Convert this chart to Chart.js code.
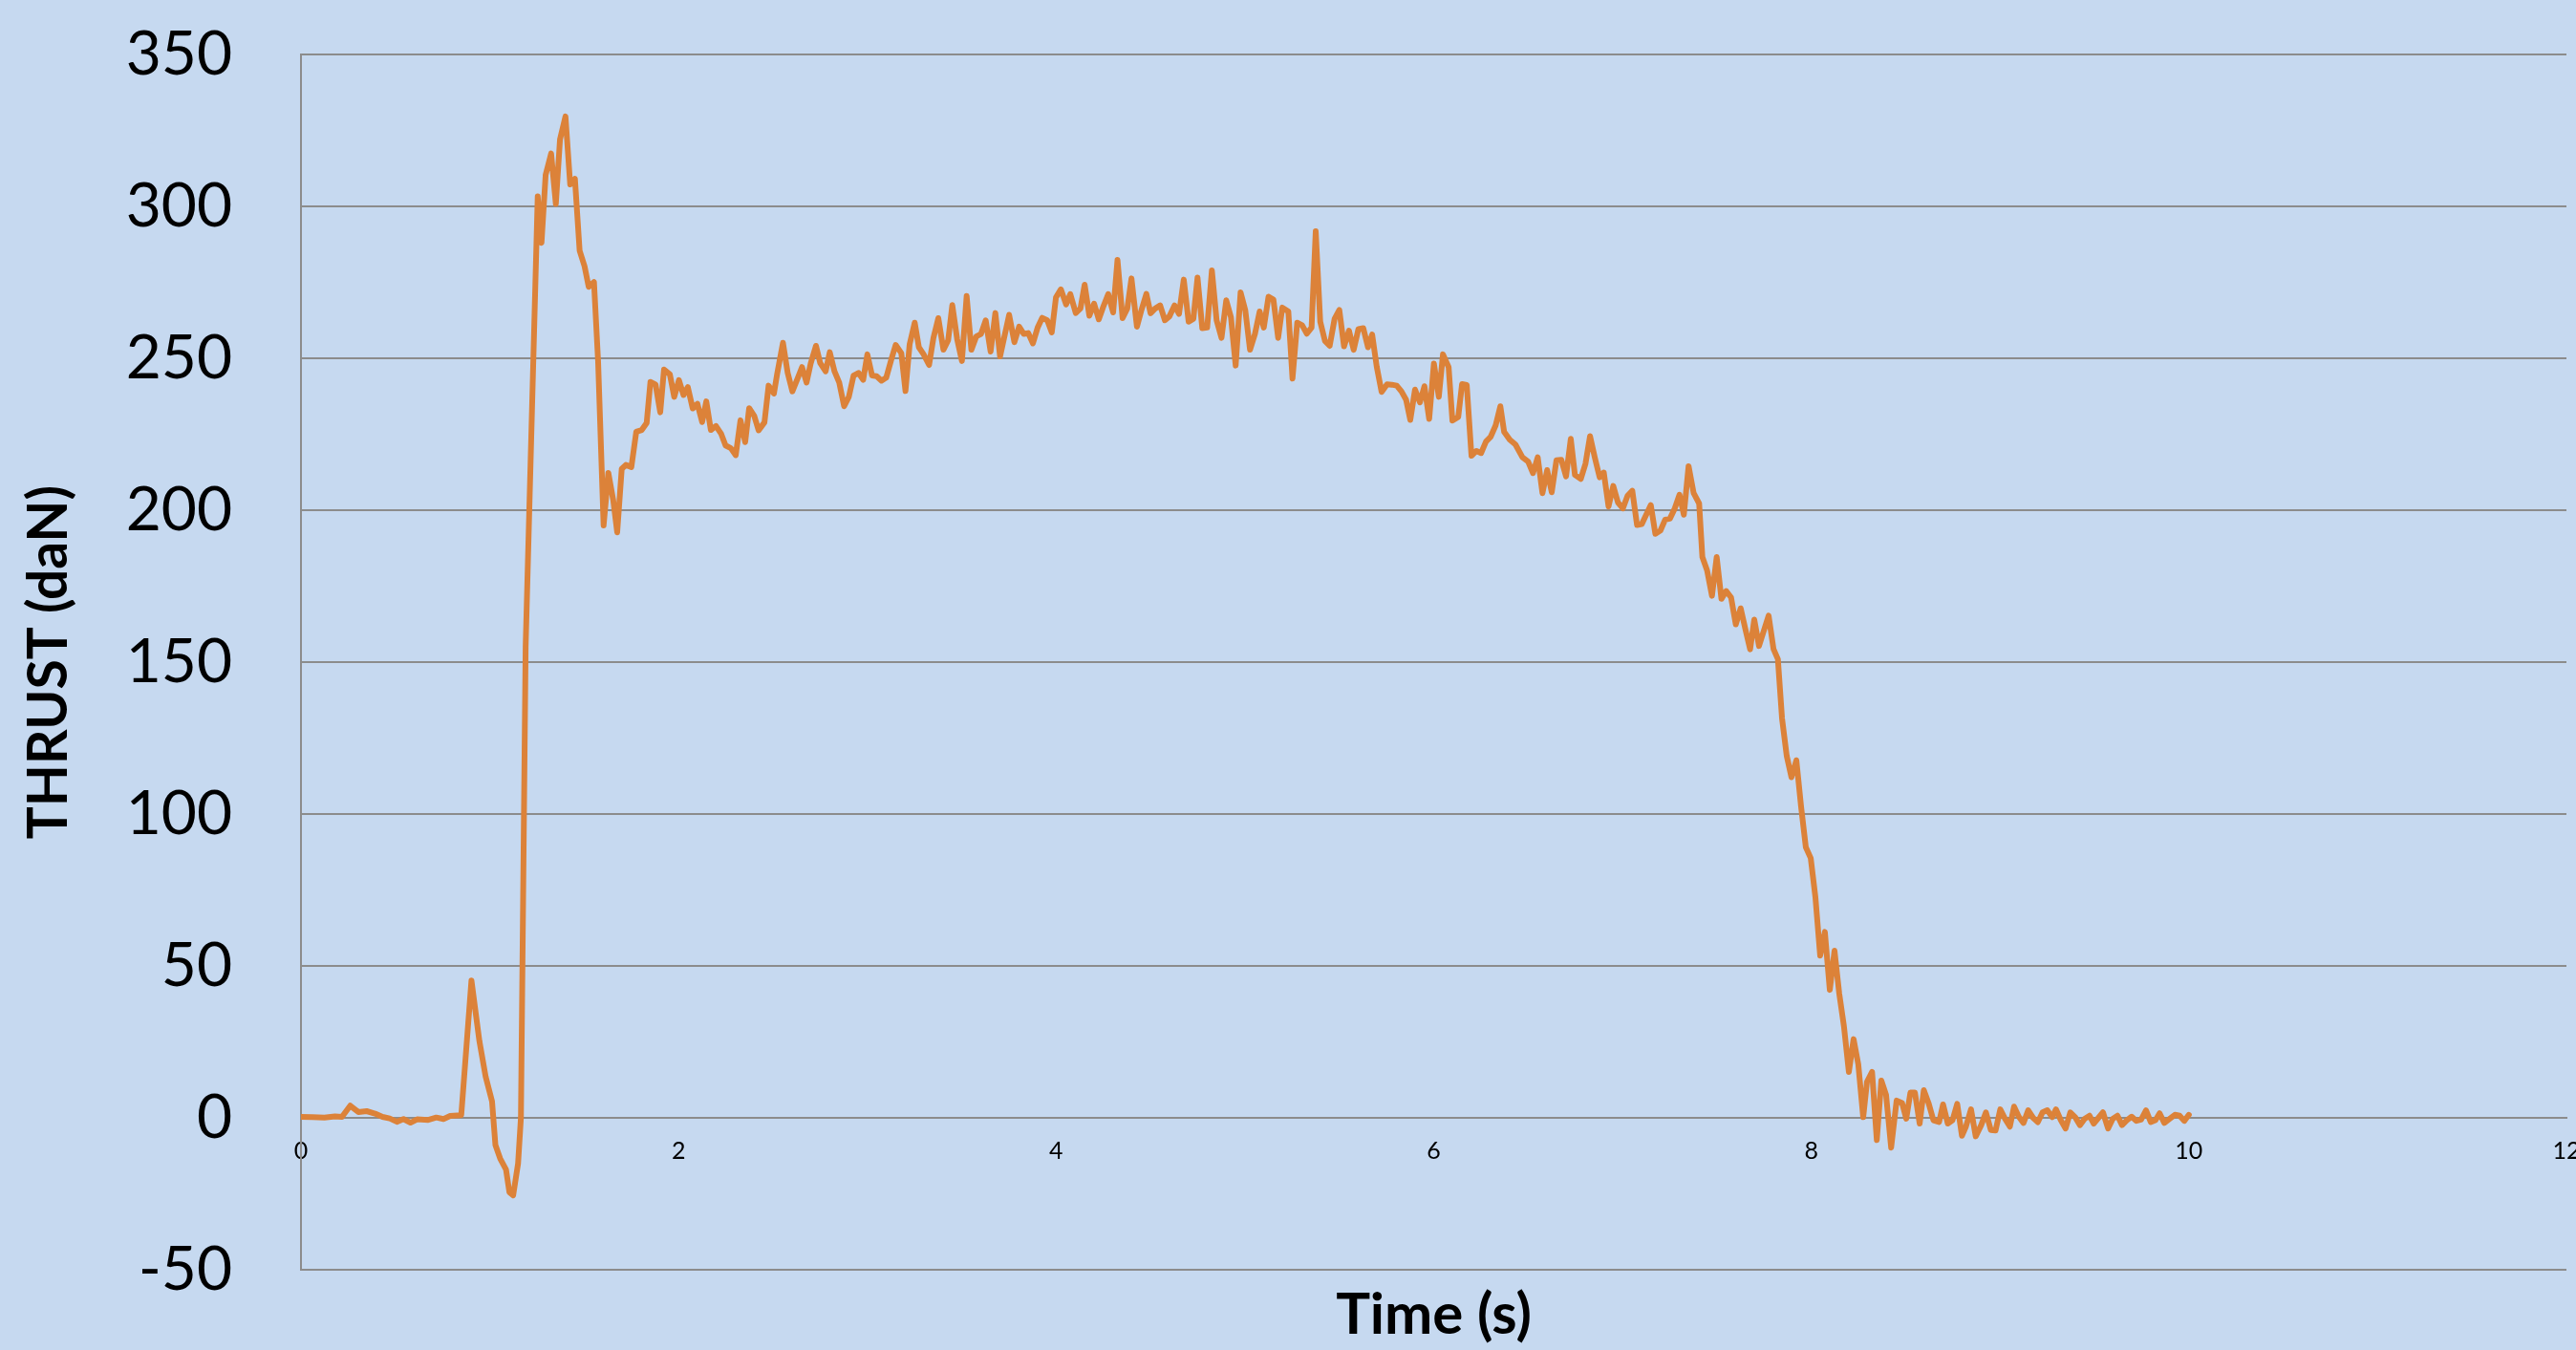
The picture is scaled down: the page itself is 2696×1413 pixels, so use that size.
<!DOCTYPE html>
<html>
<head>
<meta charset="utf-8">
<title>Thrust curve</title>
<script src="https://cdn.jsdelivr.net/npm/chart.js@4/dist/chart.umd.min.js"></script>
<style>
  html, body { margin: 0; padding: 0; background: #C6D9F0; }
  #wrap { width: 2696px; height: 1413px; }
</style>
</head>
<body>
<div id="wrap"><canvas id="thrust" width="2696" height="1413"></canvas></div>
<script>
// Static-fire measurement: time in seconds, thrust in daN
const timeS = [
  0, 0.06, 0.124, 0.18, 0.217, 0.261, 0.304, 0.348, 0.392, 0.432, 0.47, 0.508, 0.543, 0.58, 0.615, 0.674, 0.717, 0.755, 0.79, 0.849,
  0.903, 0.945, 0.978, 1.012, 1.03, 1.055, 1.086, 1.104, 1.124, 1.15, 1.165, 1.19, 1.254, 1.274, 1.296, 1.325, 1.35, 1.372, 1.401, 1.426,
  1.451, 1.476, 1.502, 1.524, 1.552, 1.574, 1.603, 1.628, 1.654, 1.675, 1.699, 1.721, 1.75, 1.776, 1.805, 1.831, 1.851, 1.878, 1.903, 1.923,
  1.954, 1.977, 2.002, 2.026, 2.049, 2.075, 2.1, 2.125, 2.147, 2.171, 2.198, 2.226, 2.249, 2.277, 2.303, 2.328, 2.353, 2.374, 2.401, 2.424,
  2.455, 2.477, 2.505, 2.522, 2.553, 2.578, 2.603, 2.629, 2.654, 2.678, 2.7, 2.728, 2.75, 2.779, 2.801, 2.826, 2.851, 2.877, 2.902, 2.927,
  2.953, 2.978, 3.0, 3.025, 3.049, 3.075, 3.1, 3.126, 3.15, 3.18, 3.202, 3.224, 3.251, 3.273, 3.298, 3.327, 3.35, 3.376, 3.403, 3.428,
  3.45, 3.476, 3.501, 3.526, 3.551, 3.577, 3.602, 3.627, 3.653, 3.678, 3.703, 3.751, 3.779, 3.804, 3.829, 3.852, 3.877, 3.902, 3.926, 3.953,
  3.977, 3.999, 4.025, 4.053, 4.075, 4.104, 4.129, 4.151, 4.176, 4.201, 4.226, 4.248, 4.276, 4.302, 4.325, 4.352, 4.377, 4.399, 4.428, 4.453,
  4.478, 4.5, 4.525, 4.551, 4.576, 4.6, 4.627, 4.651, 4.676, 4.702, 4.727, 4.749, 4.774, 4.8, 4.825, 4.85, 4.876, 4.901, 4.926, 4.951,
  4.977, 5.002, 5.027, 5.053, 5.078, 5.1, 5.125, 5.151, 5.176, 5.198, 5.23, 5.252, 5.277, 5.303, 5.328, 5.353, 5.375, 5.399, 5.424, 5.449,
  5.475, 5.5, 5.525, 5.551, 5.576, 5.601, 5.627, 5.652, 5.674, 5.698, 5.724, 5.753, 5.778, 5.804, 5.829, 5.854, 5.876, 5.901, 5.927, 5.951,
  5.976, 6.001, 6.027, 6.049, 6.079, 6.099, 6.13, 6.15, 6.175, 6.2, 6.226, 6.251, 6.277, 6.302, 6.328, 6.353, 6.373, 6.403, 6.433, 6.47,
  6.5, 6.526, 6.551, 6.576, 6.601, 6.625, 6.65, 6.676, 6.701, 6.726, 6.748, 6.779, 6.804, 6.828, 6.853, 6.879, 6.901, 6.926, 6.951, 6.976,
  7.002, 7.027, 7.052, 7.077, 7.102, 7.128, 7.15, 7.174, 7.201, 7.226, 7.251, 7.277, 7.302, 7.325, 7.35, 7.377, 7.406, 7.423, 7.448, 7.474,
  7.499, 7.524, 7.549, 7.575, 7.6, 7.626, 7.651, 7.676, 7.698, 7.723, 7.774, 7.8, 7.823, 7.845, 7.87, 7.895, 7.921, 7.946, 7.971, 7.997,
  8.022, 8.047, 8.072, 8.098, 8.123, 8.148, 8.173, 8.199, 8.224, 8.249, 8.275, 8.295, 8.322, 8.347, 8.371, 8.396, 8.423, 8.452, 8.481, 8.503,
  8.525, 8.549, 8.574, 8.596, 8.621, 8.647, 8.677, 8.698, 8.723, 8.748, 8.773, 8.798, 8.819, 8.846, 8.871, 8.9, 8.925, 8.951, 8.976, 9.001,
  9.026, 9.052, 9.074, 9.099, 9.124, 9.149, 9.175, 9.2, 9.225, 9.25, 9.276, 9.296, 9.322, 9.347, 9.372, 9.398, 9.423, 9.448, 9.474, 9.496,
  9.521, 9.545, 9.572, 9.597, 9.622, 9.646, 9.671, 9.697, 9.722, 9.747, 9.773, 9.798, 9.823, 9.845, 9.87, 9.899, 9.926, 9.951, 9.976, 10.0
];

const thrustDaN = [
  0.3, 0.2, 0.1, 0.5, 0.3, 4.0, 1.9, 2.2, 1.4, 0.3, -0.2, -1.3, -0.4, -1.6, -0.5, -0.7, 0.1, -0.4, 0.6, 0.9,
  45.2, 25.3, 13.6, 5.4, -9.0, -13.4, -17.0, -24.5, -25.5, -15.0, 0.0, 155.0, 303.3, 288.0, 310.4, 317.4, 300.8, 322.0, 329.6, 307.2,
  309.1, 285.4, 280.3, 273.5, 275.1, 248.8, 195.0, 212.3, 203.3, 192.7, 213.6, 214.9, 214.2, 225.8, 226.4, 228.7, 242.2, 241.4, 232.2, 246.3,
  244.7, 237.3, 242.8, 237.9, 240.5, 233.5, 235.0, 229.0, 235.8, 226.4, 227.7, 225.1, 221.3, 220.4, 218.1, 229.6, 222.4, 233.6, 231.0, 226.3,
  228.9, 241.0, 238.4, 244.7, 255.1, 245.2, 239.1, 243.1, 247.1, 242.0, 248.3, 254.1, 248.5, 245.7, 252.0, 245.7, 242.0, 234.2, 237.3, 244.3,
  245.2, 242.9, 251.3, 244.3, 244.1, 242.6, 243.6, 249.4, 254.4, 251.7, 239.2, 254.6, 261.7, 253.6, 251.3, 247.8, 256.7, 263.2, 252.8, 255.9,
  267.5, 256.2, 249.1, 270.5, 252.8, 257.2, 258.0, 262.5, 252.2, 264.9, 250.6, 264.3, 255.3, 260.4, 258.0, 258.3, 254.9, 260.1, 263.3, 262.5,
  258.5, 270.0, 272.7, 267.7, 271.1, 264.9, 266.4, 274.2, 264.0, 268.0, 262.8, 266.7, 271.1, 265.1, 282.4, 263.2, 266.4, 276.3, 260.4, 266.1,
  271.2, 264.8, 266.4, 267.4, 262.5, 263.8, 267.4, 264.6, 275.9, 262.0, 263.0, 276.6, 259.9, 260.1, 278.9, 262.5, 256.7, 269.1, 263.5, 247.6,
  271.7, 265.8, 252.8, 258.0, 265.4, 260.1, 270.3, 269.3, 256.7, 266.7, 265.4, 243.3, 261.7, 260.9, 258.1, 260.1, 291.8, 262.0, 255.7, 254.1,
  263.0, 265.9, 253.9, 259.1, 252.8, 259.6, 259.9, 253.6, 257.8, 247.3, 238.9, 241.4, 241.3, 241.0, 239.1, 236.3, 229.7, 239.7, 235.5, 240.8,
  230.0, 248.3, 237.3, 251.3, 247.1, 229.5, 230.7, 241.5, 241.2, 217.9, 219.5, 218.8, 222.6, 224.2, 227.9, 234.2, 225.8, 223.2, 221.6, 217.4,
  216.0, 212.2, 217.4, 205.6, 213.2, 205.9, 216.4, 216.6, 211.1, 223.5, 211.6, 210.3, 215.3, 224.4, 217.4, 210.8, 212.4, 201.2, 208.0, 202.5,
  200.6, 204.8, 206.4, 195.1, 195.4, 198.8, 201.7, 192.2, 193.3, 196.9, 197.2, 200.6, 205.1, 198.5, 214.5, 205.6, 202.2, 184.6, 180.2, 171.8,
  184.6, 170.8, 173.4, 171.3, 162.4, 167.7, 160.8, 154.2, 164.0, 155.3, 165.3, 154.3, 151.0, 131.5, 119.1, 112.1, 117.7, 102.4, 89.1, 85.5,
  72.5, 53.4, 61.2, 42.1, 55.0, 40.9, 30.1, 15.1, 25.9, 17.6, 0.2, 11.8, 15.1, -7.3, 12.3, 7.6, -9.8, 5.7, 4.9, -0.3,
  8.3, 8.3, -1.9, 9.1, 4.9, -0.8, -1.4, 4.4, -1.9, -0.8, 4.6, -5.9, -2.9, 2.8, -6.1, -2.4, 1.8, -4.0, -4.2, 2.8,
  -0.3, -2.9, 3.7, 0.4, -1.7, 2.5, 0.0, -1.4, 1.8, 2.5, 0.2, 2.8, -0.8, -3.5, 1.8, 0.2, -2.4, -0.3, 0.7, -1.9,
  0.0, 1.8, -3.5, -0.3, 0.7, -2.4, -0.8, 0.4, -1.0, -0.6, 2.5, -1.4, -0.8, 1.5, -1.7, -0.3, 1.0, 0.7, -1.0, 1.0
];

const xTickValues = [0, 2, 4, 6, 8, 10, 12];
const yTickValues = [-50, 0, 50, 100, 150, 200, 250, 300, 350];
const xAxisTitle = 'Time (s)';
const yAxisTitle = 'THRUST (daN)';

const FONT = 'Lato, "Open Sans", "DejaVu Sans", sans-serif';
const GRID = '#8c8c8c';

const points = timeS.map((t, i) => ({ x: t, y: thrustDaN[i] }));

new Chart(document.getElementById('thrust'), {
  type: 'line',
  data: {
    datasets: [{
      data: points,
      borderColor: '#DC8239',
      borderWidth: 6,
      pointRadius: 0,
      tension: 0,
      borderJoinStyle: 'round',
      borderCapStyle: 'round',
      fill: false
    }]
  },
  options: {
    responsive: false,
    animation: false,
    devicePixelRatio: 1,
    layout: { padding: { top: 57, right: 10, bottom: 0, left: 0 } },
    plugins: { legend: { display: false }, tooltip: { enabled: false } },
    scales: {
      x: {
        type: 'linear',
        position: { y: 0 },
        min: 0,
        max: 12,
        afterBuildTicks: s => { s.ticks = xTickValues.map(v => ({ value: v })); },
        afterFit: s => { s.paddingLeft = 0; s.paddingRight = 0; },
        ticks: { font: { family: FONT, size: 25 }, color: '#000', padding: 20, maxRotation: 0, autoSkip: false },
        grid: { display: false, drawTicks: false },
        border: { display: true, color: GRID, width: 2 }
      },
      xTitle: {
        type: 'linear',
        position: 'bottom',
        min: 0,
        max: 12,
        ticks: { display: false },
        grid: { display: false, drawTicks: false },
        border: { display: false },
        title: {
          display: true,
          text: xAxisTitle,
          font: { family: FONT, size: 60, weight: 'bold' },
          color: '#000',
          padding: { top: 0, bottom: 0 }
        },
        afterFit: s => { s.height = 84; }
      },
      y: {
        type: 'linear',
        position: 'left',
        min: -50,
        max: 350,
        afterBuildTicks: s => { s.ticks = yTickValues.map(v => ({ value: v })); },
        afterFit: s => { s.width = 315; s.paddingTop = 0; s.paddingBottom = 0; },
        ticks: { font: { family: FONT, size: 64 }, color: '#000', padding: 72 },
        grid: { color: GRID, lineWidth: 2, drawTicks: false },
        border: { color: GRID, width: 2 },
        title: {
          display: true,
          text: yAxisTitle,
          font: { family: FONT, size: 57, weight: 'bold' },
          color: '#000',
          padding: { top: 17, bottom: 0 }
        }
      }
    }
  }
});
</script>
</body>
</html>
